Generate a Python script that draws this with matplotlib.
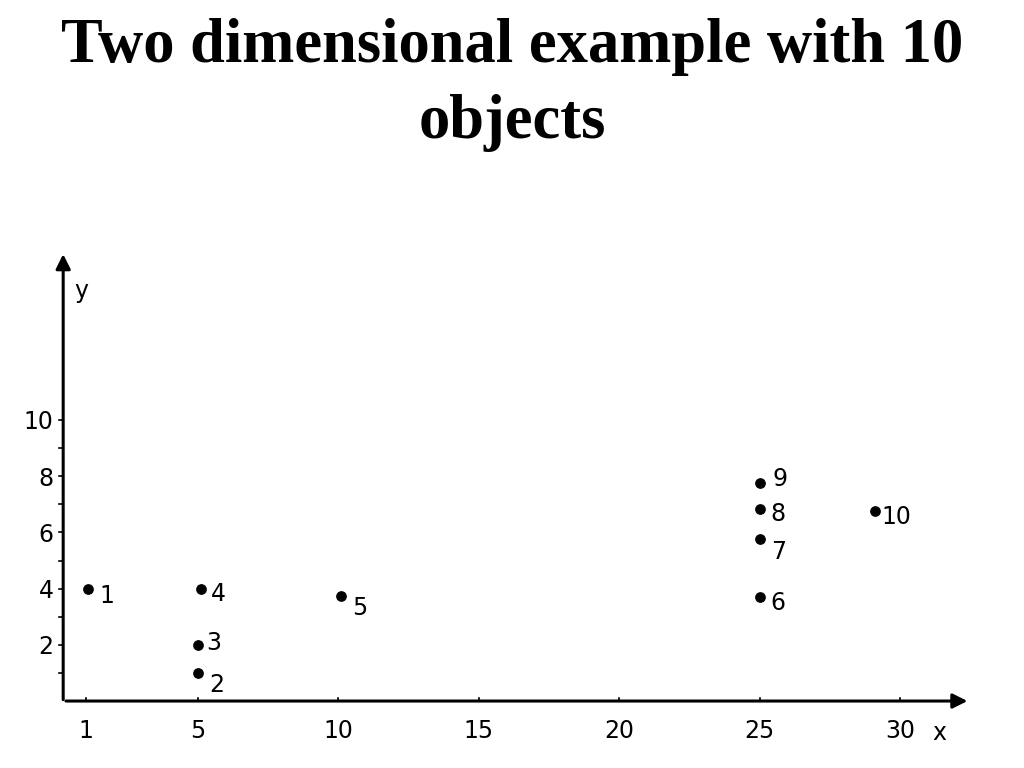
import numpy as np
import matplotlib.pyplot as plt

# object coordinates
obj_id = ['1', '2', '3', '4', '5', '6', '7', '8', '9', '10']
obj_x = [1.1, 5.0, 5.0, 5.1, 10.1, 25.0, 25.0, 25.0, 25.0, 29.1]
obj_y = [4.0, 1.0, 2.0, 4.0, 3.75, 3.7, 5.75, 6.85, 7.75, 6.75]

x_ticks = [1, 5, 10, 15, 20, 25, 30]
y_ticks = [2, 4, 6, 8, 10]
y_minor = [1, 3, 5, 7, 9]

# label offsets (points) for each object number
lab_dx = [8, 8, 6, 7, 8, 8, 8, 8, 9, 5]
lab_dy = [-5, -9, 1, -4, -9, -4, -9, -4, 3, -4]

fig = plt.figure(figsize=(10.24, 7.68), dpi=100)
fig.text(0.5, 0.889, "Two dimensional example with 10\nobjects", ha='center', va='center',
         fontsize=45, fontweight='bold', family='Liberation Serif', linespacing=1.42)

ax = fig.add_axes([0.0617, 0.0872, 0.9132, 0.6038])
ax.set_xlim(0.2, 33.5)
ax.set_ylim(0, 16.5)

for s in ['top', 'right', 'left', 'bottom']:
    ax.spines[s].set_visible(False)

# axes as arrows
ax.annotate('', xy=(32.5, 0), xytext=(0.2, 0), annotation_clip=False,
            arrowprops=dict(arrowstyle='-|>', color='black', lw=2.2, mutation_scale=22))
ax.annotate('', xy=(0.2, 16.0), xytext=(0.2, -0.05), annotation_clip=False,
            arrowprops=dict(arrowstyle='-|>', color='black', lw=2.2, mutation_scale=22))

ax.set_xticks(x_ticks)
ax.set_xticklabels([str(t) for t in x_ticks])
ax.set_yticks(y_ticks)
ax.set_yticklabels([str(t) for t in y_ticks])
ax.set_yticks(y_minor, minor=True)
ax.tick_params(axis='both', which='both', length=0, labelsize=17)
ax.tick_params(axis='x', pad=13)
ax.tick_params(axis='y', pad=7)

for t in x_ticks:
    ax.plot([t, t], [0, 0.12], color='black', lw=1.2, clip_on=False)
for t in y_ticks + y_minor:
    ax.plot([0.05, 0.2], [t, t], color='black', lw=1.2, clip_on=False)

ax.text(0.85, 14.6, 'y', fontsize=17, ha='center', va='center')
ax.text(31.4, -1.15, 'x', fontsize=17, ha='center', va='center', clip_on=False)

ax.scatter(obj_x, obj_y, s=45, color='black', zorder=3, clip_on=False)
for i, lab in enumerate(obj_id):
    ax.annotate(lab, (obj_x[i], obj_y[i]), xytext=(lab_dx[i], lab_dy[i]),
                textcoords='offset points', fontsize=17, ha='left', va='center')

fig.savefig('out.png', dpi=100)
